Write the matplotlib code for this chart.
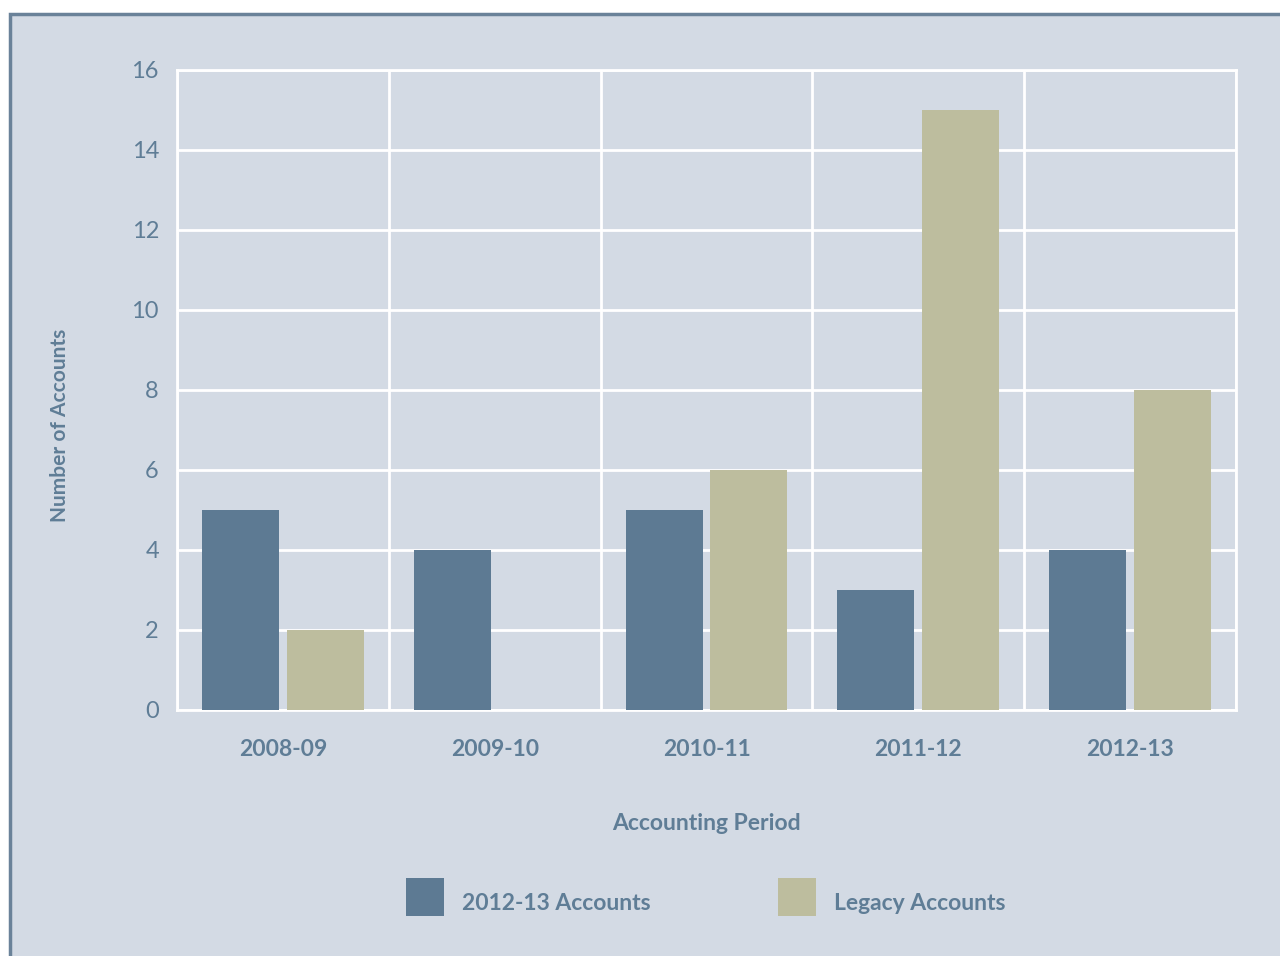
import numpy as np
import matplotlib
matplotlib.use("Agg")
import matplotlib.pyplot as plt
from matplotlib.patches import Rectangle

periods = ["2008-09", "2009-10", "2010-11", "2011-12", "2012-13"]
current_accounts = [5, 4, 5, 3, 4]
legacy_accounts = [2, 0, 6, 15, 8]
series_names = ["2012-13 Accounts", "Legacy Accounts"]

BG = "#D3DAE4"
BLUE = "#5D7A93"
KHAKI = "#BDBD9E"
TEXT = "#5F7D96"
FRAME = "#6A8299"

fig = plt.figure(figsize=(12.8, 9.56), dpi=100)
fig.patch.set_facecolor("white")
W, H = 1280, 956

# framed panel, running off the right and bottom edges
fig.patches.append(Rectangle((10 / W, -0.1), 1.2, 0.1 + (956 - 14) / H, transform=fig.transFigure,
                             facecolor=BG, edgecolor=FRAME, linewidth=2.5, zorder=-5))

ax = fig.add_axes([177 / W, 1 - 710 / H, (1236 - 177) / W, (710 - 70) / H])
ax.set_facecolor(BG)

x = np.arange(len(periods))
ax.bar(x - 0.2, current_accounts, width=0.363, color=BLUE, zorder=3)
ax.bar(x + 0.2, legacy_accounts, width=0.363, color=KHAKI, zorder=3)

ax.set_xlim(-0.5, len(periods) - 0.5)
ax.set_ylim(0, 16)
ax.set_yticks(range(0, 17, 2))
ax.set_xticks(x)
ax.set_xticklabels(periods)
ax.set_xticks(np.arange(-0.5, len(periods), 1), minor=True)

ax.grid(True, axis="y", which="major", color="white", linewidth=2, zorder=1)
ax.grid(True, axis="x", which="minor", color="white", linewidth=2, zorder=1)
ax.grid(False, axis="x", which="major")
for s in ax.spines.values():
    s.set_color("white")
    s.set_linewidth(2)

ax.tick_params(axis="both", which="both", length=0)
ax.tick_params(axis="y", pad=13, labelsize=17, labelcolor=TEXT)
ax.tick_params(axis="x", pad=21, labelsize=16.5, labelcolor=TEXT)
for lbl in ax.get_yticklabels():
    lbl.set_fontfamily("Lato")
    lbl.set_fontweight("normal")
for lbl in ax.get_xticklabels():
    lbl.set_fontfamily("Lato")
    lbl.set_fontweight("bold")

ax.set_xlabel("Accounting Period", fontsize=16.5, color=TEXT, family="Lato",
              fontweight="bold", labelpad=38)
ax.set_ylabel("Number of Accounts", fontsize=15, color=TEXT, family="Lato",
              fontweight="bold")
ax.yaxis.set_label_coords(-0.101, 0.445)

# legend
for name, color, sx in [(series_names[0], BLUE, 406), (series_names[1], KHAKI, 778)]:
    fig.patches.append(Rectangle((sx / W, 1 - 916 / H), 38 / W, 38 / H,
                                 transform=fig.transFigure, facecolor=color, zorder=2))
    fig.text((sx + 56) / W, 1 - 904 / H, name, fontsize=16.5, color=TEXT, family="Lato",
             fontweight="bold", va="center", ha="left")

fig.savefig("out.png", dpi=100, facecolor=fig.get_facecolor())
